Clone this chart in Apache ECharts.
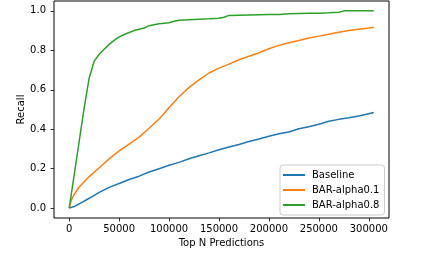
<!DOCTYPE html>
<html>
<head>
<meta charset="utf-8">
<script src="https://cdn.jsdelivr.net/npm/echarts@6/dist/echarts.min.js"></script>
<style>html,body{margin:0;padding:0;background:#fff;}#c{width:431px;height:254px;}</style>
</head>
<body>
<div id="c"></div>
<script>
const seriesNames = ['Baseline', 'BAR-alpha0.1', 'BAR-alpha0.8'];
const xTicks = [0, 50000, 100000, 150000, 200000, 250000, 300000];
const yTicks = [0, 0.2, 0.4, 0.6, 0.8, 1.0];

const baselineX = [0, 5000, 10000, 20000, 30000, 40000, 50000, 60000, 70000, 80000, 90000, 100000, 110000, 120000, 130000, 140000, 150000, 160000, 170000, 180000, 190000, 200000, 210000, 220000, 230000, 240000, 250000, 260000, 270000, 280000, 290000, 300000, 305000];
const baselineY = [0, 0.008, 0.022, 0.05, 0.08, 0.105, 0.125, 0.145, 0.162, 0.183, 0.2, 0.217, 0.232, 0.25, 0.266, 0.28, 0.296, 0.31, 0.323, 0.338, 0.35, 0.364, 0.377, 0.386, 0.402, 0.413, 0.425, 0.44, 0.45, 0.458, 0.467, 0.478, 0.485];

const alpha01X = [0, 2000, 5000, 10000, 20000, 30000, 40000, 50000, 60000, 70000, 80000, 90000, 95000, 100000, 110000, 120000, 130000, 140000, 150000, 160000, 170000, 180000, 190000, 200000, 210000, 220000, 230000, 240000, 250000, 260000, 270000, 280000, 290000, 300000, 305000];
const alpha01Y = [0, 0.04, 0.07, 0.107, 0.16, 0.205, 0.25, 0.29, 0.325, 0.36, 0.405, 0.452, 0.48, 0.51, 0.565, 0.612, 0.65, 0.685, 0.71, 0.73, 0.752, 0.77, 0.788, 0.808, 0.825, 0.838, 0.85, 0.862, 0.872, 0.882, 0.892, 0.9, 0.907, 0.913, 0.917];

const alpha08X = [0, 5000, 10000, 15000, 20000, 25000, 30000, 35000, 40000, 45000, 50000, 55000, 60000, 65000, 70000, 75000, 80000, 85000, 90000, 100000, 105000, 110000, 120000, 130000, 140000, 150000, 155000, 160000, 170000, 180000, 190000, 200000, 210000, 220000, 230000, 240000, 250000, 260000, 270000, 275000, 290000, 305000];
const alpha08Y = [0, 0.17, 0.34, 0.51, 0.66, 0.745, 0.78, 0.805, 0.83, 0.85, 0.868, 0.88, 0.89, 0.9, 0.907, 0.913, 0.925, 0.93, 0.935, 0.94, 0.947, 0.952, 0.955, 0.958, 0.96, 0.963, 0.968, 0.977, 0.978, 0.979, 0.98, 0.981, 0.982, 0.985, 0.987, 0.988, 0.988, 0.99, 0.993, 1.0, 1.0, 1.0];

const colors = ['#1f77b4', '#ff7f0e', '#2ca02c'];
const pairs = (xs, ys) => xs.map((x, i) => [x, ys[i]]);
const seriesData = [pairs(baselineX, baselineY), pairs(alpha01X, alpha01Y), pairs(alpha08X, alpha08Y)];

const font = 'DejaVu Sans';
const chart = echarts.init(document.getElementById('c'), null, {renderer: 'canvas'});
chart.setOption({
  animation: false,
  color: colors,
  grid: {left: 54, top: 1, width: 335, height: 217, show: true, borderColor: '#000', borderWidth: 1, backgroundColor: 'transparent'},
  xAxis: {
    type: 'value', min: -15250, max: 320250,
    name: 'Top N Predictions', nameLocation: 'middle', nameGap: 20, nameMoveOverlap: false,
    nameTextStyle: {fontFamily: font, fontSize: 10, color: '#000'},
    axisLine: {show: false, onZero: false},
    splitLine: {show: false},
    axisTick: {show: true, length: 3.5, lineStyle: {color: '#000', width: 0.8}, customValues: xTicks},
    axisLabel: {customValues: xTicks, margin: 6, fontFamily: font, fontSize: 10, color: '#000', formatter: v => String(v)}
  },
  yAxis: {
    type: 'value', min: -0.05, max: 1.05,
    name: 'Recall', nameLocation: 'middle', nameGap: 28, nameRotate: 90, nameMoveOverlap: false,
    nameTextStyle: {fontFamily: font, fontSize: 10, color: '#000'},
    axisLine: {show: false, onZero: false},
    splitLine: {show: false},
    axisTick: {show: true, length: 3.5, lineStyle: {color: '#000', width: 0.8}, customValues: yTicks},
    axisLabel: {customValues: yTicks, margin: 8, fontFamily: font, fontSize: 10, color: '#000', formatter: v => v.toFixed(1)}
  },
  legend: {
    orient: 'vertical', left: 280, top: 165,
    padding: [4, 5, 4, 3],
    itemGap: 3, itemWidth: 22, itemHeight: 2, icon: 'rect',
    backgroundColor: 'rgba(255,255,255,0.8)', borderColor: '#ccc', borderWidth: 1, borderRadius: 3,
    textStyle: {fontFamily: font, fontSize: 10, color: '#000', lineHeight: 12, padding: [0, 0, 0, 2]},
    data: seriesNames
  },
  series: seriesNames.map((n, i) => ({
    name: n, type: 'line', data: seriesData[i], showSymbol: false, symbol: 'none',
    lineStyle: {width: 1.5, color: colors[i]}, itemStyle: {color: colors[i]}
  }))
});
</script>
</body>
</html>
